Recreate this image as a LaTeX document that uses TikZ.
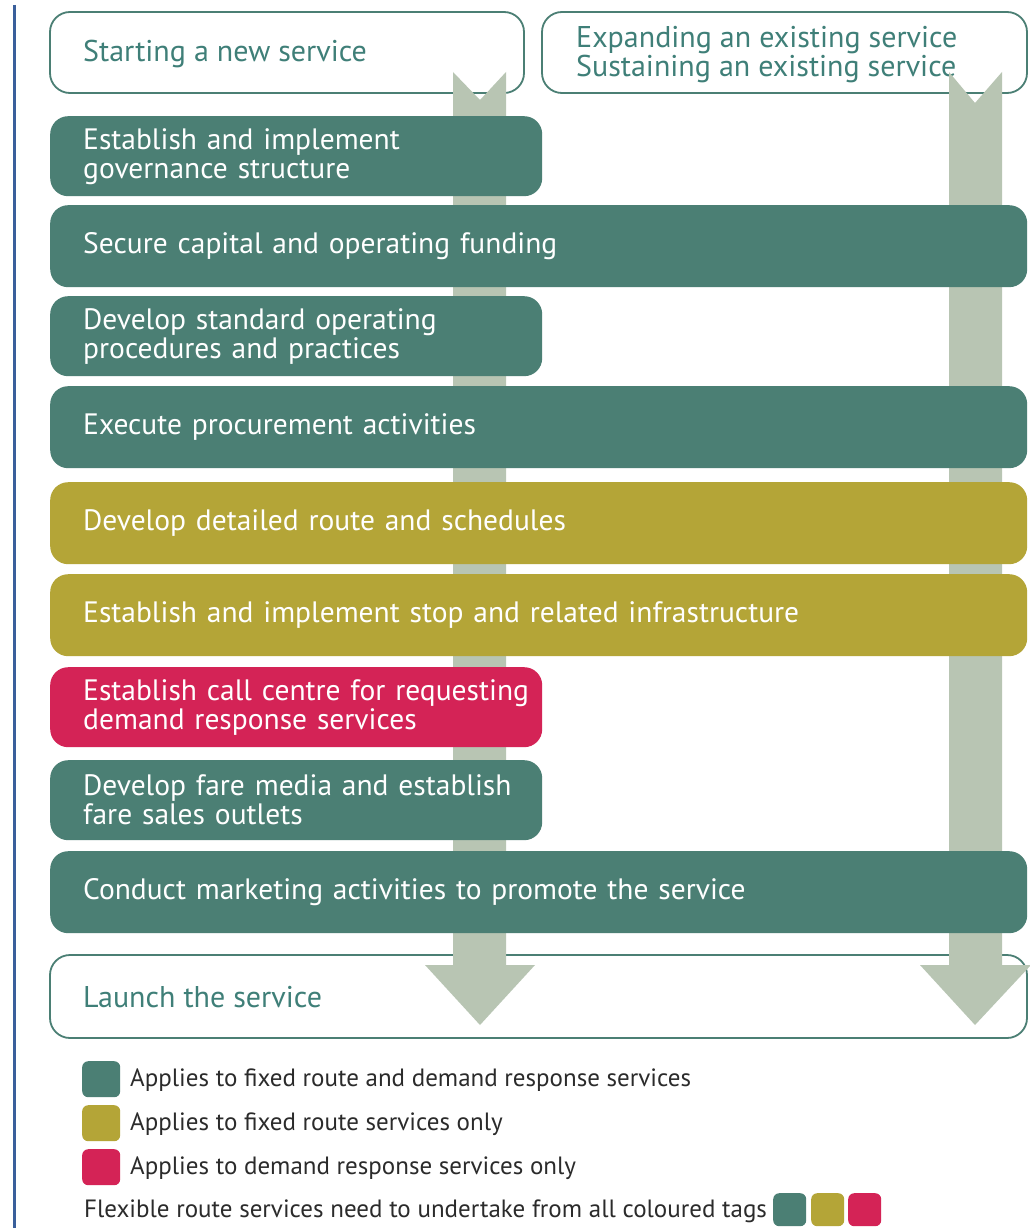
\documentclass[tikz,border=0pt]{standalone}
\usepackage{fontspec}
\setmainfont{PT Sans}
\definecolor{teal1}{HTML}{4B7F74}
\definecolor{olive1}{HTML}{B4A537}
\definecolor{red1}{HTML}{D42356}
\definecolor{arrowc}{HTML}{B8C5B3}
\definecolor{headtxt}{HTML}{3F7F78}
\definecolor{bluel}{HTML}{3A5F9B}
\definecolor{legtxt}{HTML}{2B2B2B}
\hbadness=10000 \hfuzz=100pt
\begin{document}
\begin{tikzpicture}[x=1pt,y=-1pt,
  box/.style={rounded corners=18pt, anchor=north west, inner xsep=33pt, inner ysep=0pt,
     align=left, text=white, font=\fontsize{29.5}{29}\selectfont, minimum height=80pt},
  narrowbox/.style={box, text width=426pt},
  widebox/.style={box, text width=911pt, minimum height=82pt},
  headbox/.style={draw=teal1, line width=1.8pt, fill=white, rounded corners=20pt},
  headtext/.style={anchor=west, align=left, text=headtxt, inner sep=0pt, font=\fontsize{30}{29}\selectfont},
  legsq/.style={rounded corners=6pt, anchor=north west, minimum width=38pt, minimum height=36pt, inner sep=0pt},
  smallsq/.style={rounded corners=6pt, anchor=north west, minimum width=33pt, minimum height=33pt, inner sep=0pt},
  legtext/.style={anchor=west, inner sep=0pt, text=legtxt, font=\fontsize{25}{26}\selectfont},
  bigarrow/.style={fill=arrowc}
]
\useasboundingbox (0,0) rectangle (1029,1228);
\fill[white] (0,0) rectangle (1029,1228);
% blue left rule
\draw[bluel, line width=3pt] (14,5) -- (14,1228);
% header boxes
\draw[headbox] (50,12) rectangle (524,93);
\node[headtext] (h1) at (83,54) {Starting a new service};
\draw[headbox] (542,12) rectangle (1027,93);
\node[headtext] (h2) at (576,55) {Expanding an existing service\\Sustaining an existing service};
% launch box
\draw[headbox] (50,955) rectangle (1027,1038);
% arrows
\fill[bigarrow] (453,72) -- (480,100) -- (506,72) -- (506,965) -- (535,965) -- (480,1025) -- (425,965) -- (453,965) -- cycle;
\fill[bigarrow] (949,72) -- (975,103) -- (1002,72) -- (1002,965) -- (1031,965) -- (975,1025) -- (920,965) -- (949,965) -- cycle;
\node[headtext] (launch) at (83,997) {Launch the service};
% steps
\node[narrowbox, fill=teal1] (s1) at (50,116) {\mbox{Establish and implement}\\\mbox{governance structure}};
\node[widebox, fill=teal1] (s2) at (50,205) {Secure capital and operating funding};
\node[narrowbox, fill=teal1] (s3) at (50,296) {\mbox{Develop standard operating}\\\mbox{procedures and practices}};
\node[widebox, fill=teal1] (s4) at (50,386) {Execute procurement activities};
\node[widebox, fill=olive1] (s5) at (50,482) {Develop detailed route and schedules};
\node[widebox, fill=olive1] (s6) at (50,574) {Establish and implement stop and related infrastructure};
\node[narrowbox, fill=red1] (s7) at (50,667) {\mbox{Establish call centre for requesting}\\\mbox{demand response services}};
\node[narrowbox, fill=teal1] (s8) at (50,760) {\mbox{Develop fare media and establish}\\\mbox{fare sales outlets}};
\node[widebox, fill=teal1] (s9) at (50,851) {Conduct marketing activities to promote the service};
% legend
\node[legsq, fill=teal1] (l1) at (82,1061) {};
\node[legtext] (t1) at (130,1080) {Applies to fixed route and demand response services};
\node[legsq, fill=olive1] (l2) at (82,1105) {};
\node[legtext] (t2) at (130,1124) {Applies to fixed route services only};
\node[legsq, fill=red1] (l3) at (82,1149) {};
\node[legtext] (t3) at (130,1168) {Applies to demand response services only};
\node[legtext] (t4) at (84,1211) {Flexible route services need to undertake from all coloured tags};
\node[smallsq, fill=teal1] (q1) at (773,1193) {};
\node[smallsq, fill=olive1] (q2) at (811,1193) {};
\node[smallsq, fill=red1] (q3) at (848,1193) {};
\end{tikzpicture}
\end{document}
